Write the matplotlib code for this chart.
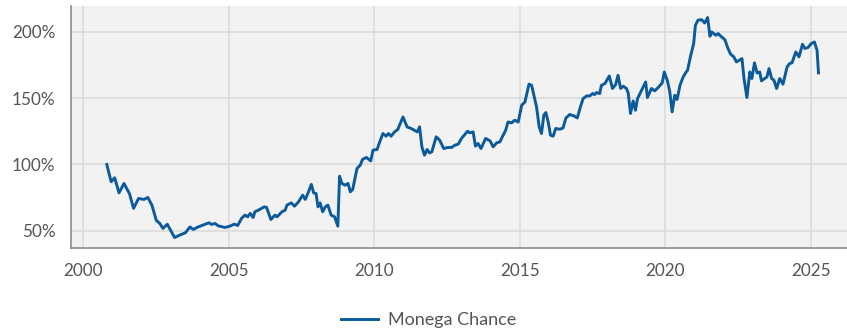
import matplotlib
matplotlib.use("Agg")
import matplotlib.pyplot as plt
from matplotlib.ticker import FuncFormatter

plt.rcParams['font.family'] = ['Lato', 'DejaVu Sans']

# fund performance, indexed to 100% at launch (decimal year, percent)
years = [
    2000.81, 2000.96, 2001.08, 2001.23, 2001.40, 2001.59, 2001.73, 2001.90,
    2002.09, 2002.22, 2002.36, 2002.51, 2002.63, 2002.74, 2002.89, 2003.14,
    2003.31, 2003.51, 2003.67, 2003.78, 2003.95, 2004.12, 2004.32, 2004.41,
    2004.53, 2004.64, 2004.87, 2005.04, 2005.19, 2005.31, 2005.44, 2005.56,
    2005.65, 2005.74, 2005.84, 2005.90, 2006.07, 2006.22, 2006.30, 2006.45,
    2006.59, 2006.66, 2006.83, 2006.94, 2007.00, 2007.15, 2007.26, 2007.40,
    2007.54, 2007.63, 2007.72, 2007.84, 2007.92, 2008.00, 2008.07, 2008.14,
    2008.23, 2008.32, 2008.41, 2008.52, 2008.64, 2008.75, 2008.81, 2008.89,
    2009.00, 2009.10, 2009.18, 2009.26, 2009.41, 2009.52, 2009.60, 2009.73,
    2009.88, 2009.96, 2010.10, 2010.19, 2010.30, 2010.41, 2010.49, 2010.58,
    2010.70, 2010.81, 2010.99, 2011.13, 2011.27, 2011.48, 2011.56, 2011.64,
    2011.73, 2011.82, 2011.90, 2011.98, 2012.13, 2012.25, 2012.39, 2012.53,
    2012.66, 2012.77, 2012.89, 2013.00, 2013.21, 2013.29, 2013.40, 2013.48,
    2013.57, 2013.67, 2013.83, 2013.98, 2014.09, 2014.21, 2014.32, 2014.43,
    2014.52, 2014.60, 2014.72, 2014.83, 2014.95, 2015.07, 2015.18, 2015.32,
    2015.41, 2015.58, 2015.67, 2015.75, 2015.83, 2015.90, 2015.98, 2016.06,
    2016.15, 2016.24, 2016.38, 2016.49, 2016.59, 2016.72, 2016.86, 2016.98,
    2017.07, 2017.18, 2017.30, 2017.41, 2017.51, 2017.58, 2017.64, 2017.75,
    2017.81, 2017.93, 2018.08, 2018.19, 2018.30, 2018.38, 2018.47, 2018.56,
    2018.67, 2018.73, 2018.81, 2018.90, 2018.98, 2019.05, 2019.19, 2019.33,
    2019.39, 2019.53, 2019.64, 2019.76, 2019.90, 2019.97, 2020.08, 2020.16,
    2020.24, 2020.33, 2020.41, 2020.51, 2020.62, 2020.70, 2020.77, 2020.88,
    2020.98, 2021.04, 2021.13, 2021.25, 2021.36, 2021.46, 2021.54, 2021.60,
    2021.67, 2021.74, 2021.82, 2021.94, 2022.05, 2022.16, 2022.25, 2022.36,
    2022.45, 2022.54, 2022.64, 2022.71, 2022.81, 2022.91, 2022.98, 2023.07,
    2023.16, 2023.25, 2023.31, 2023.42, 2023.50, 2023.57, 2023.66, 2023.74,
    2023.83, 2023.94, 2024.05, 2024.19, 2024.28, 2024.36, 2024.49, 2024.60,
    2024.72, 2024.80, 2024.91, 2025.02, 2025.13, 2025.22, 2025.27,
]
values = [
    100.0, 87.0, 90.0, 78.6, 85.7, 78.0, 67.0, 74.4,
    73.7, 75.2, 69.4, 58.0, 55.6, 51.9, 55.0, 45.0,
    46.8, 48.6, 53.0, 51.1, 53.0, 54.4, 56.1, 54.9,
    55.6, 53.8, 52.6, 53.6, 55.1, 54.1, 59.4, 61.9,
    60.6, 63.2, 60.1, 64.4, 66.2, 68.1, 67.7, 58.6,
    61.9, 60.6, 64.4, 65.6, 69.4, 71.1, 68.6, 71.9,
    76.9, 73.7, 78.2, 85.0, 78.6, 78.2, 68.1, 71.1,
    64.4, 68.1, 69.4, 61.9, 60.6, 53.6, 91.2, 85.7,
    84.4, 85.7, 79.4, 81.2, 97.0, 99.5, 103.8, 105.3,
    102.7, 110.8, 111.3, 117.0, 123.3, 121.3, 123.3, 121.3,
    124.5, 126.3, 135.8, 128.3, 127.1, 124.5, 128.3, 113.2,
    107.0, 111.3, 108.7, 109.5, 120.8, 118.3, 112.0, 112.8,
    112.8, 114.5, 115.3, 119.6, 125.0, 123.8, 124.5, 113.8,
    115.8, 112.0, 119.6, 117.8, 113.3, 116.3, 117.0, 122.0,
    125.8, 132.0, 131.3, 133.3, 132.0, 144.6, 147.0, 160.4,
    159.6, 143.3, 128.3, 123.3, 137.1, 139.1, 132.0, 122.0,
    121.3, 127.1, 126.5, 127.5, 135.0, 137.6, 136.6, 135.0,
    142.0, 149.6, 151.6, 151.6, 153.4, 152.6, 154.1, 153.4,
    159.6, 160.9, 166.6, 157.2, 160.2, 167.1, 157.2, 158.9,
    157.2, 153.8, 138.4, 147.8, 140.8, 149.6, 155.9, 162.1,
    150.4, 157.2, 155.4, 157.9, 161.4, 169.6, 162.9, 154.6,
    139.6, 152.1, 148.9, 159.6, 165.9, 168.9, 170.9, 182.2,
    191.0, 204.8, 208.6, 209.0, 206.5, 210.6, 196.5, 199.7,
    198.5, 197.3, 198.5, 196.0, 194.0, 187.3, 183.0, 181.0,
    177.2, 178.4, 179.7, 164.7, 150.4, 169.6, 164.7, 176.5,
    168.9, 169.6, 162.9, 164.7, 165.9, 172.2, 164.7, 163.4,
    157.2, 164.7, 160.4, 173.4, 176.0, 176.5, 184.7, 181.0,
    190.5, 187.3, 188.0, 191.0, 192.2, 186.0, 168.9,
]
series_name = "Monega Chance"
x_ticks = [2000, 2005, 2010, 2015, 2020, 2025]
y_ticks = [50, 100, 150, 200]

line_color = "#0a5a9c"
text_color = "#555555"

fig = plt.figure(figsize=(8.47, 3.31), dpi=100)
ax = fig.add_axes([0.0835, 0.251, 0.9165, 0.731])
ax.set_facecolor("#f2f2f2")

ax.plot(years, values, color=line_color, linewidth=2.1,
        solid_joinstyle="round", label=series_name, zorder=3)

ax.set_xlim(1999.57, 2026.25)
ax.set_ylim(37.2, 219.3)
ax.set_xticks(x_ticks)
ax.set_yticks(y_ticks)
ax.yaxis.set_major_formatter(FuncFormatter(lambda v, _: f"{v:.0f}%"))

ax.grid(True, color="#dcdcdc", linewidth=1.2, zorder=0)
ax.set_axisbelow(True)
ax.tick_params(length=0, labelsize=12.3, labelcolor=text_color)
ax.tick_params(axis="x", pad=11)
ax.tick_params(axis="y", pad=11)

for side in ("top", "right"):
    ax.spines[side].set_visible(False)
ax.spines["left"].set_color("#8c8c8c")
ax.spines["left"].set_linewidth(1.2)
ax.spines["bottom"].set_color("#8c8c8c")
ax.spines["bottom"].set_linewidth(1.2)

fig.legend(loc="center", bbox_to_anchor=(0.506, 0.033), frameon=False,
           fontsize=13, labelcolor=text_color, handlelength=2.1,
           handletextpad=0.55)

fig.savefig("out.png", dpi=100)
